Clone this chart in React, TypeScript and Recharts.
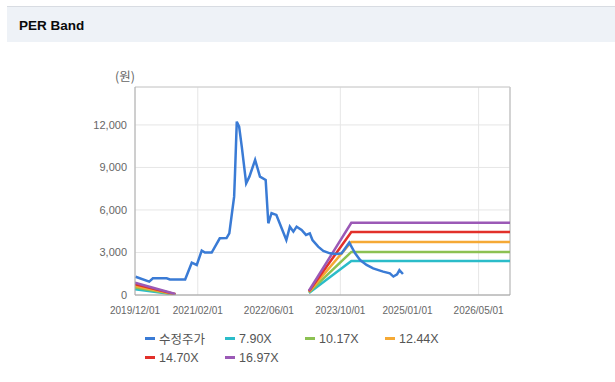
import React from 'react';
import { LineChart, Line, XAxis, YAxis, CartesianGrid, ReferenceLine } from 'recharts';

// ---- data ----
const priceDates = [
  '2019/12/05', '2020/03/07', '2020/04/01', '2020/07/04', '2020/07/26', '2020/11/07',
  '2020/12/22', '2021/01/25', '2021/02/28', '2021/03/22', '2021/05/07', '2021/07/01',
  '2021/08/16', '2021/09/04', '2021/09/22', '2021/10/07', '2021/10/13', '2021/10/25',
  '2021/11/10', '2021/11/28', '2021/12/28', '2022/01/19', '2022/02/27', '2022/04/01',
  '2022/05/10', '2022/05/28', '2022/06/19', '2022/07/22', '2022/09/28', '2022/10/22',
  '2022/11/15', '2022/12/07', '2023/01/10', '2023/02/09', '2023/03/07', '2023/03/25',
  '2023/05/03', '2023/06/07', '2023/07/22', '2023/09/06', '2023/10/10', '2023/12/01',
  '2024/01/10', '2024/02/13', '2024/03/28', '2024/05/12', '2024/07/19', '2024/09/03',
  '2024/09/27', '2024/10/22', '2024/11/07', '2024/12/01',
];
const priceValues = [
  1290, 940, 1180, 1180, 1100, 1100,
  2280, 2120, 3130, 2990, 2990, 4000,
  4020, 4350, 5770, 6940, 8590, 12230,
  11880, 10470, 7880, 8350, 9530, 8350,
  8120, 5060, 5770, 5650, 3880, 4820,
  4470, 4820, 4590, 4240, 4350, 3880,
  3410, 3110, 2940, 2890, 2940, 3690,
  2940, 2470, 2120, 1880, 1650, 1530,
  1300, 1450, 1760, 1480,
];

const bandDates = ['2019/12/01', '2020/09/01', '2022/01/01', '2023/03/01', '2023/12/15', '2026/12/01'];
const band790 = [410, 30, null, 140, 2400, 2400];
const band1017 = [525, 40, null, 180, 3040, 3040];
const band1244 = [640, 50, null, 220, 3740, 3740];
const band1470 = [760, 60, null, 260, 4440, 4440];
const band1697 = [875, 70, null, 300, 5090, 5090];

const seriesNames = ['수정주가', '7.90X', '10.17X', '12.44X', '14.70X', '16.97X'];
const seriesColors = ['#3a7bd5', '#2bbcc9', '#8cc152', '#f5a935', '#e2302a', '#9b59b6'];

const xTickLabels = ['2019/12/01', '2021/02/01', '2022/06/01', '2023/10/01', '2025/01/01', '2026/05/01'];
const xStartLabel = '2019/12/01';
const xEndLabel = '2026/12/01';
const yTicks = [0, 3000, 6000, 9000, 12000];
const yMax = 14676;
const yUnit = '(원)';
const title = 'PER Band';

// ---- helpers ----
const toT = (s: string) => {
  const [y, m, d] = s.split('/').map(Number);
  return Date.UTC(y, m - 1, d);
};
const fmtDate = (t: number) => {
  const dt = new Date(t);
  const p = (n: number) => String(n).padStart(2, '0');
  return `${dt.getUTCFullYear()}/${p(dt.getUTCMonth() + 1)}/${p(dt.getUTCDate())}`;
};

const priceData = priceDates.map((s, i) => ({ t: toT(s), v: priceValues[i] }));
const bandSeries = [band790, band1017, band1244, band1470, band1697].map((arr) =>
  bandDates.map((s, i) => ({ t: toT(s), v: arr[i] }))
);
const xTicks = xTickLabels.map(toT);
const xStart = toT(xStartLabel);
const xEnd = toT(xEndLabel);

const FONT = '"Liberation Sans", Arial, "Noto Sans CJK KR", sans-serif';

export default function App() {
  return (
    <div style={{ position: 'absolute', left: 0, top: 0, width: 615, height: 382, background: '#fff', fontFamily: FONT, overflow: 'hidden' }}>
      <div
        style={{
          position: 'absolute', left: 7, top: 6, width: 608, height: 35,
          borderTop: '1px solid #d8dce2', background: '#eef2f7',
        }}
      >
        <div style={{ position: 'absolute', left: 12, top: 11, fontSize: 13.5, fontWeight: 'bold', color: '#0a0a0a' }}>{title}</div>
      </div>
      <div style={{ position: 'absolute', left: 115, top: 66, fontSize: 12.5, color: '#666', fontFamily: '"Noto Sans CJK KR", sans-serif' }}>{yUnit}</div>
      <div style={{ position: 'absolute', left: 0, top: 0 }}>
        <LineChart width={615} height={382} margin={{ top: 87, right: 105, left: 75, bottom: 57 }}>
          <CartesianGrid stroke="#e6e6e6" horizontal vertical />
          <XAxis
            type="number"
            dataKey="t"
            domain={[xStart, xEnd]}
            ticks={xTicks}
            tickFormatter={fmtDate}
            height={30}
            stroke="#9a9a9a"
            tickLine={false}
            tickMargin={6}
            tick={{ fontSize: 10, fill: '#666', fontFamily: FONT }}
            allowDataOverflow
          />
          <YAxis
            type="number"
            domain={[0, yMax]}
            ticks={yTicks}
            width={60}
            stroke="#aaaaaa"
            tickLine={false}
            tickFormatter={(v: number) => v.toLocaleString('en-US')}
            tick={{ fontSize: 11, fill: '#666', fontFamily: FONT }}
            allowDataOverflow
          />
          <ReferenceLine y={yMax} stroke="#cccccc" />
          <ReferenceLine x={xEnd} stroke="#c8c8c8" strokeWidth={1.5} />
          {bandSeries.map((data, i) => (
            <Line
              key={seriesNames[i + 1]}
              data={data}
              dataKey="v"
              type="linear"
              stroke={seriesColors[i + 1]}
              strokeWidth={2.5}
              dot={false}
              activeDot={false}
              connectNulls={false}
              isAnimationActive={false}
            />
          ))}
          <Line
            data={priceData}
            dataKey="v"
            type="linear"
            stroke={seriesColors[0]}
            strokeWidth={2.5}
            dot={false}
            activeDot={false}
            isAnimationActive={false}
          />
        </LineChart>
      </div>
      <div style={{ position: 'absolute', left: 145, top: 329, width: 330, display: 'flex', flexWrap: 'wrap' }}>
        {seriesNames.map((n, i) => (
          <div key={n} style={{ width: 80, height: 19, display: 'flex', alignItems: 'center' }}>
            <span style={{ display: 'inline-block', width: 10, height: 2.5, background: seriesColors[i], marginRight: 4 }} />
            <span style={{ fontSize: 12.5, color: '#555', whiteSpace: 'nowrap' }}>{n}</span>
          </div>
        ))}
      </div>
    </div>
  );
}
